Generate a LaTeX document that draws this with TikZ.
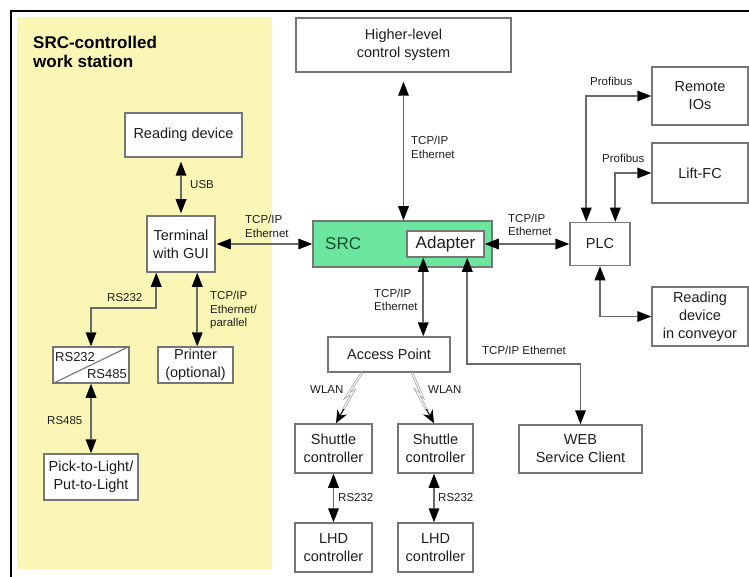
\documentclass[tikz,border=0pt]{standalone}
\usepackage{fontspec}
\setmainfont{Liberation Sans}
\usetikzlibrary{arrows.meta,calc}
\definecolor{zone}{RGB}{250,246,182}
\definecolor{srcfill}{RGB}{108,230,158}
\definecolor{srctext}{RGB}{22,78,46}
\definecolor{wire}{RGB}{105,105,105}
\definecolor{edge}{RGB}{118,118,118}
\definecolor{ink}{RGB}{30,30,30}
\definecolor{radio}{RGB}{160,160,160}
\tikzset{
  box/.style={draw=edge, line width=1.5pt, fill=white, inner sep=0pt, align=center,
    text=ink, font=\fontsize{14.5}{18}\selectfont},
  lbl/.style={inner sep=0pt, align=left, text=ink, font=\fontsize{11.5}{13.5}\selectfont},
  link/.style={draw=wire, line width=1.7pt,
    {Triangle[length=14pt,width=11pt,color=black,line width=0pt]}-{Triangle[length=14pt,width=11pt,color=black,line width=0pt]}},
  bolt/.style={draw=radio, line width=0.7pt, double=white, double distance=1pt},
  bolttip/.style={draw=black, line width=1pt, -{Stealth[length=13pt,width=11pt,line width=0pt]}},
}
\begin{document}
\begin{tikzpicture}[x=1pt,y=-1pt]
\useasboundingbox (0,0) rectangle (749,577);
\fill[white] (0,0) rectangle (749,577);

% frame and work-station zone
\fill[zone] (17,17) rectangle (272,569);
\draw[black, line width=1.5pt] (11,577) -- (11,11) -- (749,11);
\node[anchor=west, inner sep=0pt, align=left, text=black,
      font=\bfseries\fontsize{17}{19.5}\selectfont] (title) at (33,52) {SRC-controlled\\work station};

% work-station devices
\node[box, minimum width=117pt, minimum height=44pt] (reading) at (183.5,135) {Reading device};
\node[box, minimum width=68pt, minimum height=56pt] (terminal) at (181,244) {Terminal\\with GUI};
\node[box, minimum width=76pt, minimum height=36pt] (conv) at (91,365) {};
\draw[edge, line width=1.1pt] (conv.south west) -- (conv.north east);
\node[anchor=west, inner sep=0pt, text=ink, font=\fontsize{13}{15}\selectfont] (c232) at (55,357) {RS232};
\node[anchor=east, inner sep=0pt, text=ink, font=\fontsize{13}{15}\selectfont] (c485) at (127,374.5) {RS485};
\node[box, minimum width=75pt, minimum height=36pt] (printer) at (195.5,365) {Printer\\(optional)};
\node[box, minimum width=94pt, minimum height=46pt] (pick) at (91,477) {Pick-to-Light/\\Put-to-Light};

% control level
\node[box, minimum width=215pt, minimum height=54pt] (higher) at (403.5,45) {Higher-level\\control system};
\node[box, fill=srcfill, minimum width=179pt, minimum height=46pt] (src) at (402.5,244) {};
\node[anchor=west, inner sep=0pt, text=srctext, font=\fontsize{17}{20}\selectfont] (srclabel) at (325,244) {SRC};
\node[box, minimum width=77pt, minimum height=26pt, font=\fontsize{17}{20}\selectfont] (adapter) at (445.5,244) {Adapter};
\node[box, minimum width=60pt, minimum height=43pt] (plc) at (600,244) {PLC};
\node[box, minimum width=96pt, minimum height=58pt] (remote) at (700,96) {Remote\\IOs};
\node[box, minimum width=96pt, minimum height=60pt] (lift) at (700,173) {Lift-FC};
\node[box, minimum width=96pt, minimum height=59pt] (conveyor) at (700,316.5) {Reading\\device\\in conveyor};

% field level
\node[box, minimum width=122pt, minimum height=35pt] (ap) at (389,354.5) {Access Point};
\node[box, minimum width=123pt, minimum height=48pt] (web) at (580.5,449) {WEB\\Service Client};
\node[box, minimum width=77pt, minimum height=49pt] (sh1) at (333.5,448.5) {Shuttle\\controller};
\node[box, minimum width=75pt, minimum height=49pt] (sh2) at (435.5,448.5) {Shuttle\\controller};
\node[box, minimum width=77pt, minimum height=49pt] (lhd1) at (333.5,547.5) {LHD\\controller};
\node[box, minimum width=75pt, minimum height=49pt] (lhd2) at (435.5,547.5) {LHD\\controller};

% wired connections
\draw[link, shorten <=4pt, shorten >=2pt] (reading.south -| terminal.north) -- (terminal.north);
\draw[link, shorten <=1pt] (terminal.east) -- (src.west);
\draw[link, shorten <=9pt] (higher.south) -- (higher.south |- src.north);
\draw[link] (adapter.east) -- (plc.west);
\draw[link] (remote.west) -| ($(plc.north west)+(17,0)$);
\draw[link] (lift.west) -| ($(plc.north west)+(46,0)$);
\draw[link] (conveyor.west) -| (plc.south);
\coordinate (a1) at ($(adapter.south west)+(17,0)$);
\draw[link] (a1) -- (a1 |- ap.north);
\coordinate (a2) at ($(adapter.south west)+(61,0)$);
\draw[link] (a2) -- ++(0,106) -| (web.north);
\coordinate (t1) at ($(terminal.south west)+(10,0)$);
\draw[link] (t1) -- ++(0,35) -| (conv.north);
\coordinate (t2) at ($(terminal.south west)+(51,0)$);
\draw[link] (t2) -- (t2 |- printer.north);
\draw[link] (conv.south) -- (pick.north);
\draw[link] (sh1.south) -- (lhd1.north);
\draw[link] (sh2.south -| 434,0) -- (lhd2.north -| 434,0);

% radio links
\coordinate (w1a) at (ap.south -| 362,0);
\coordinate (w1b) at (347,396);
\coordinate (w1c) at (353,392);
\coordinate (w1d) at (sh1.north -| 336,0);
\draw[bolt] (w1a) -- (w1b) -- (w1c) -- ($(w1c)!0.6!(w1d)$);
\draw[bolttip] ($(w1c)!0.55!(w1d)$) -- (w1d);
\coordinate (w2a) at (ap.south -| 412,0);
\coordinate (w2b) at (422,396);
\coordinate (w2c) at (417,392);
\coordinate (w2d) at (sh2.north -| 434,0);
\draw[bolt] (w2a) -- (w2b) -- (w2c) -- ($(w2c)!0.6!(w2d)$);
\draw[bolttip] ($(w2c)!0.55!(w2d)$) -- (w2d);

% connection labels
\node[lbl, anchor=west] (lusb) at (190,185) {USB};
\node[lbl, anchor=west] (lts) at (245,226.5) {TCP/IP\\Ethernet};
\node[lbl, anchor=west] (lhs) at (411,147.5) {TCP/IP\\Ethernet};
\node[lbl, anchor=west] (lap) at (508,225) {TCP/IP\\Ethernet};
\node[lbl, anchor=west] (lacc) at (374,300) {TCP/IP\\Ethernet};
\node[lbl, anchor=west] (lweb) at (482,350) {TCP/IP Ethernet};
\node[lbl, anchor=west] (lpb1) at (590,81) {Profibus};
\node[lbl, anchor=west] (lpb2) at (602,158) {Profibus};
\node[lbl, anchor=west] (lrs1) at (107,298) {RS232};
\node[lbl, anchor=west] (lprn) at (210,310.5) {TCP/IP\\Ethernet/\\parallel};
\node[lbl, anchor=west] (lrs485) at (47,421) {RS485};
\node[lbl, anchor=west] (lsh1) at (338,498) {RS232};
\node[lbl, anchor=west] (lsh2) at (438,498) {RS232};
\node[lbl, anchor=west] (lw1) at (310,390) {WLAN};
\node[lbl, anchor=west] (lw2) at (428,390) {WLAN};
\end{tikzpicture}
\end{document}
